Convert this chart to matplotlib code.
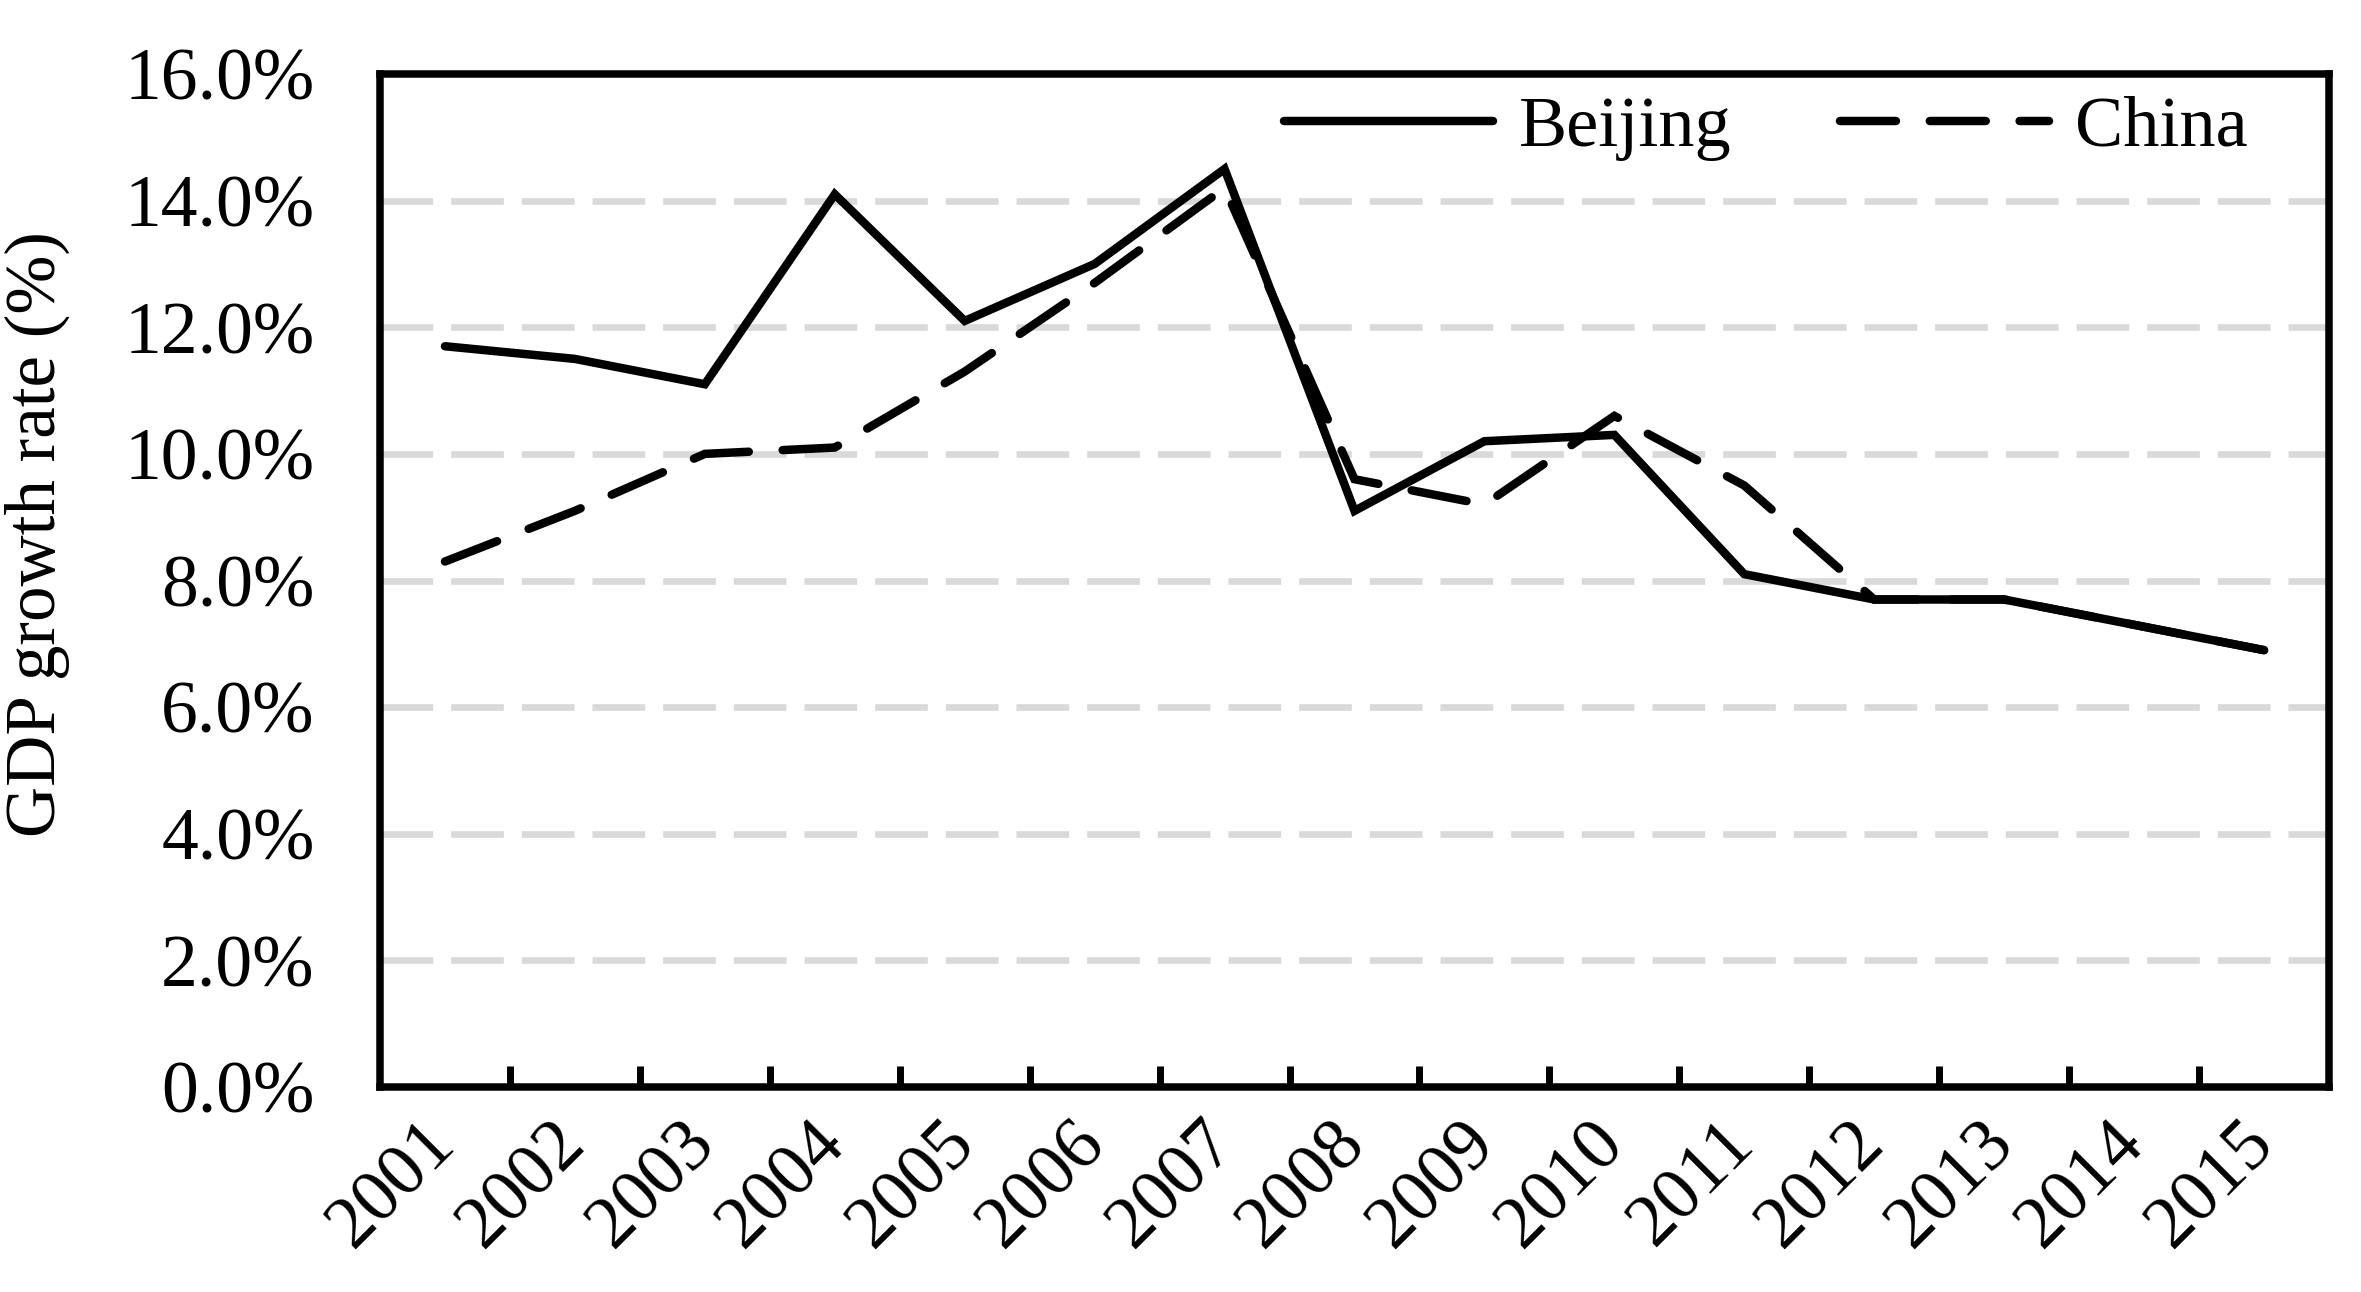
import matplotlib
matplotlib.use("Agg")
import matplotlib.pyplot as plt
from matplotlib.ticker import FixedLocator, FuncFormatter

years = ["2001", "2002", "2003", "2004", "2005", "2006", "2007", "2008",
         "2009", "2010", "2011", "2012", "2013", "2014", "2015"]
beijing = [11.7, 11.5, 11.1, 14.1, 12.1, 13.0, 14.5, 9.1, 10.2, 10.3, 8.1, 7.7, 7.7, 7.3, 6.9]
china = [8.3, 9.1, 10.0, 10.1, 11.3, 12.7, 14.2, 9.6, 9.2, 10.6, 9.5, 7.7, 7.7, 7.3, 6.9]
yticks = [0, 2, 4, 6, 8, 10, 12, 14, 16]

plt.rcParams['font.family'] = ['Liberation Serif', 'DejaVu Serif']

W, H = 2361, 1292
fig = plt.figure(figsize=(W / 100, H / 100), dpi=100)
ax = fig.add_axes([380 / W, 1 - 1087 / H, (2329 - 380) / W, (1087 - 74) / H])

x = list(range(len(years)))
LW = 6.1
ax.plot(x, beijing, color='black', lw=LW, solid_capstyle='round',
        solid_joinstyle='miter', label='Beijing', zorder=3)
ax.plot(x, china, color='black', lw=LW, linestyle=(0, (6.6, 4.0)),
        dash_capstyle='round', dash_joinstyle='miter', label='China', zorder=3)

ax.set_xlim(-0.5, len(years) - 0.5)
ax.set_ylim(0, 16)

# grid
for v in yticks[1:-1]:
    ax.axhline(v, color='#D9D9D9', lw=4.8, linestyle=(0, (7.9, 2.7)),
               dash_capstyle='butt', zorder=1)

ax.yaxis.set_major_locator(FixedLocator(yticks))
ax.yaxis.set_major_formatter(FuncFormatter(lambda v, p: f"{v:.1f}%"))
ax.tick_params(axis='y', length=0, pad=47, labelsize=53)

ax.set_xticks(x)
ax.set_xticklabels(years)
ax.set_xticks([i + 0.5 for i in range(len(years) - 1)], minor=True)
ax.tick_params(axis='x', which='major', length=0, pad=33, labelsize=53)
ax.tick_params(axis='x', which='minor', direction='in', length=15, width=5.0)
plt.setp(ax.get_xticklabels(), rotation=45, ha='right', va='center',
         rotation_mode='anchor')

for s in ax.spines.values():
    s.set_linewidth(5.4)
    s.set_color('black')

ax.set_ylabel("GDP growth rate (%)", fontsize=51)
ax.yaxis.set_label_coords(-0.159, 0.546)

leg = fig.legend(loc='center right', bbox_to_anchor=(2248 / W, 1 - 128 / H),
                 ncol=2, frameon=False, fontsize=52, handlelength=2.9,
                 handletextpad=0.36, columnspacing=1.5, borderpad=0,
                 borderaxespad=0)

fig.savefig("out.png", dpi=100)
